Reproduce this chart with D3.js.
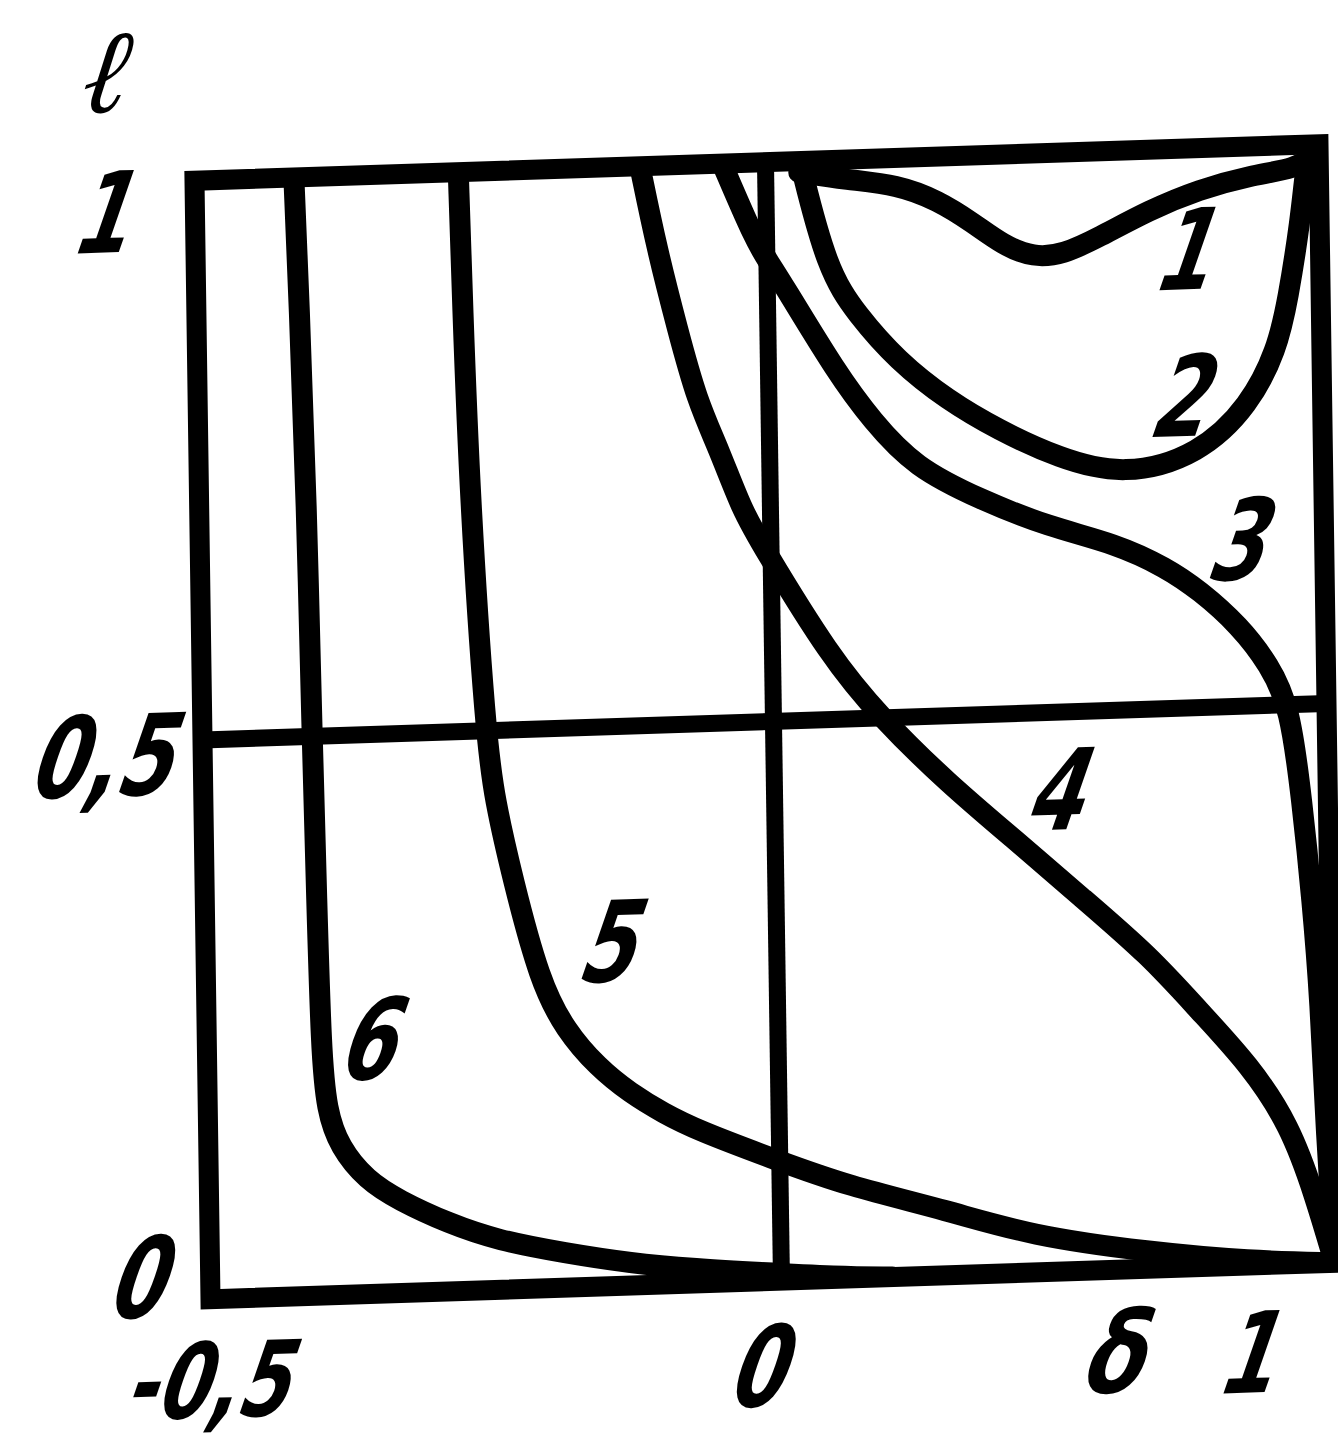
<!DOCTYPE html>
<html>
<head>
<meta charset="utf-8">
<script src="https://cdn.jsdelivr.net/npm/d3@7"></script>
<style>
  html, body { margin: 0; padding: 0; background: #fff; }
  svg { display: block; }
</style>
</head>
<body>
<svg id="chart" width="1338" height="1456"></svg>
<script>
// l as a function of δ for six cases (curves 1–6)
const curve1X = [0.06, 0.147, 0.238, 0.310, 0.373, 0.427, 0.482, 0.536, 0.600, 0.692, 0.783, 0.875, 0.960, 0.99];
const curve1L = [0.99, 0.982, 0.976, 0.961, 0.940, 0.919, 0.907, 0.909, 0.923, 0.946, 0.963, 0.974, 0.979, 0.99];

const curve2X = [0.062, 0.108, 0.162, 0.233, 0.323, 0.414, 0.522, 0.640, 0.777, 0.869, 0.919, 0.941, 0.966, 0.975, 0.985];
const curve2L = [1.0, 0.902, 0.861, 0.819, 0.782, 0.754, 0.727, 0.709, 0.726, 0.769, 0.817, 0.862, 0.935, 0.976, 1.0];

const curve3X = [-0.038, -0.010, 0.003, 0.028, 0.124, 0.186, 0.262, 0.381, 0.502, 0.623, 0.714, 0.773, 0.845, 0.898, 0.934, 0.953, 0.969, 0.981, 0.988, 1.0];
const curve3L = [1.0, 0.930, 0.911, 0.891, 0.809, 0.766, 0.723, 0.692, 0.666, 0.649, 0.626, 0.605, 0.572, 0.536, 0.498, 0.414, 0.325, 0.235, 0.119, 0.0];

const curve4X = [-0.110, -0.096, -0.079, -0.063, -0.044, -0.025, -0.008, 0.104, 0.193, 0.313, 0.434, 0.552, 0.673, 0.762, 0.852, 0.923, 0.966, 1.0];
const curve4L = [1.0, 0.925, 0.853, 0.789, 0.744, 0.690, 0.658, 0.556, 0.501, 0.440, 0.387, 0.334, 0.280, 0.229, 0.179, 0.124, 0.061, 0.0];

const curve5X = [-0.269, -0.267, -0.263, -0.252, -0.245, -0.230, -0.208, -0.186, -0.158, -0.130, -0.101, -0.072, -0.003, 0.121, 0.302, 0.452, 0.665, 0.847, 1.0];
const curve5L = [1.0, 0.886, 0.707, 0.496, 0.438, 0.366, 0.275, 0.230, 0.196, 0.172, 0.153, 0.137, 0.108, 0.083, 0.058, 0.033, 0.015, 0.004, 0.0];

const curve6X = [-0.413, -0.410, -0.406, -0.404, -0.402, -0.400, -0.396, -0.385, -0.362, -0.334, -0.291, -0.247, -0.189, -0.132, -0.074, -0.02, 0.10, 0.20];
const curve6L = [1.0, 0.890, 0.711, 0.497, 0.353, 0.219, 0.165, 0.132, 0.102, 0.083, 0.061, 0.044, 0.031, 0.020, 0.013, 0.008, 0.002, 0.0];

const curveNames = ["1", "2", "3", "4", "5", "6"];
// where each curve number is written (δ, l)
const curveLabelX = [0.768, 0.757, 0.857, 0.523, -0.141, -0.352];
const curveLabelL = [0.909, 0.778, 0.648, 0.430, 0.307, 0.227];

const xTicks = [-0.5, 0, 1];
const xTickLabels = ["-0,5", "0", "1"];
const yTicks = [0, 0.5, 1];
const yTickLabels = ["0", "0,5", "1"];
const gridX = [0];
const gridL = [0.5];
const xAxisTitle = "δ";
const yAxisTitle = "ℓ";

const W = 1124, H = 1118.5;
const svg = d3.select("#chart");
svg.append("rect").attr("width", 1338).attr("height", 1456).attr("fill", "#fff");

// plot frame, slightly tilted like a hand-drawn sheet
const g = svg.append("g")
  .attr("transform", "matrix(1,-0.03247,0.0143,1,194.5,180.75)");

const x = d3.scaleLinear().domain([-0.5, 0, 1]).range([0, 0.508 * W, W]);
const y = d3.scaleLinear().domain([0, 1]).range([H, 0]);

g.append("clipPath").attr("id", "plotclip")
  .append("rect").attr("x", -8).attr("y", -8).attr("width", W + 16).attr("height", H + 16);

// grid lines
g.selectAll("line.gx").data(gridX).join("line").attr("class", "gx")
  .attr("x1", d => x(d)).attr("x2", d => x(d)).attr("y1", y(0)).attr("y2", y(1))
  .attr("stroke", "#000").attr("stroke-width", 17);
g.selectAll("line.gy").data(gridL).join("line").attr("class", "gy")
  .attr("x1", x(-0.5)).attr("x2", x(1)).attr("y1", d => y(d)).attr("y2", d => y(d))
  .attr("stroke", "#000").attr("stroke-width", 17);

// frame
g.append("rect").attr("x", x(-0.5)).attr("y", y(1))
  .attr("width", x(1) - x(-0.5)).attr("height", y(0) - y(1))
  .attr("fill", "none").attr("stroke", "#000").attr("stroke-width", 20)
  .attr("stroke-linejoin", "miter");

// curves
const series = [
  [curve1X, curve1L], [curve2X, curve2L], [curve3X, curve3L],
  [curve4X, curve4L], [curve5X, curve5L], [curve6X, curve6L]
].map(([xs, ls]) => xs.map((v, i) => [v, ls[i]]));

const line = d3.line()
  .x(d => x(d[0])).y(d => y(d[1]))
  .curve(d3.curveBasis);

g.append("g").attr("clip-path", "url(#plotclip)")
  .selectAll("path").data(series).join("path")
  .attr("d", line)
  .attr("fill", "none").attr("stroke", "#000").attr("stroke-width", 21)
  .attr("stroke-linejoin", "round").attr("stroke-linecap", "round");

// handwritten-style labels
function hand(px, py, txt, opts = {}) {
  const size = opts.size || 112;
  g.append("text")
    .attr("transform", `translate(${px},${py}) skewX(${opts.skew ?? -20}) scale(${opts.sx ?? 0.72},1)`)
    .attr("text-anchor", "middle")
    .attr("dominant-baseline", "central")
    .attr("font-family", opts.family || "'DejaVu Sans', sans-serif")
    .attr("font-weight", "bold")
    .attr("font-style", opts.italic ? "italic" : "normal")
    .attr("font-size", size)
    .attr("fill", "#000")
    .text(txt);
}

// curve numbers
curveNames.forEach((n, i) => hand(x(curveLabelX[i]), y(curveLabelL[i]), n));

// y tick labels
const yOff = [[-65, -23], [-93, 14], [-85, 30]];
yTicks.forEach((t, i) => hand(x(-0.5) + yOff[i][0], y(t) + yOff[i][1], yTickLabels[i]));

// x tick labels
const xOff = [[4, 82], [-17, 86], [-80, 88]];
xTicks.forEach((t, i) => hand(x(t) + xOff[i][0], H + xOff[i][1], xTickLabels[i], i === 0 ? { size: 104 } : {}));

// axis titles
hand(x(1) - 215, H + 84, xAxisTitle, { sx: 0.8 });
hand(x(-0.5) - 83, y(1) - 113, yAxisTitle, { family: "'DejaVu Serif', serif", italic: true, sx: 0.9, skew: -10, size: 118 });
</script>
</body>
</html>
